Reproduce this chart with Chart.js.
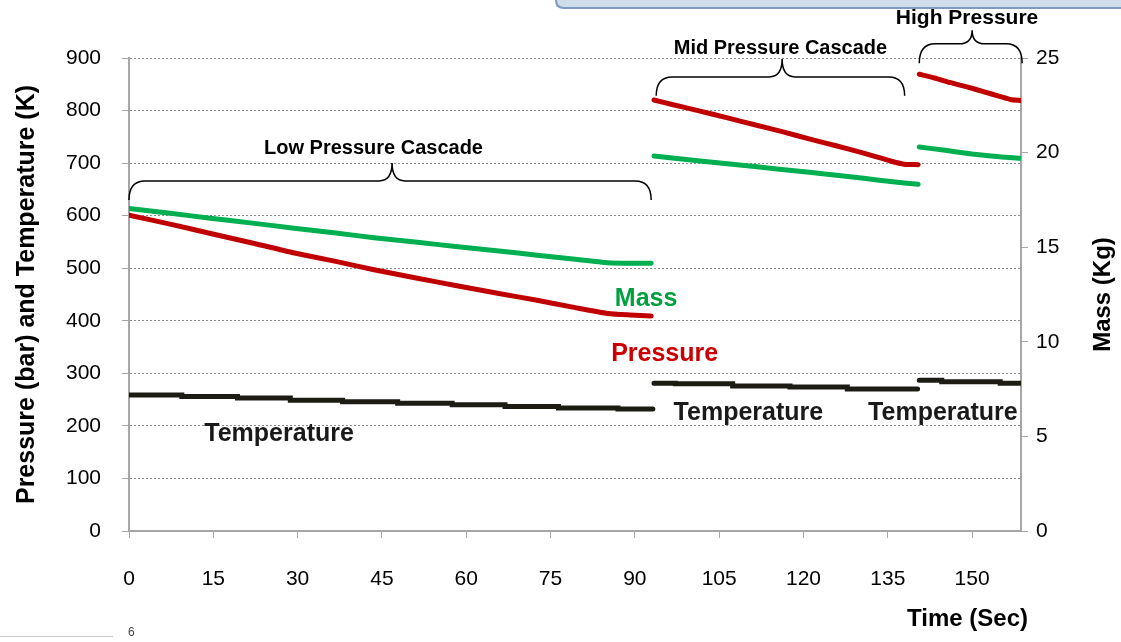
<!DOCTYPE html>
<html>
<head>
<meta charset="utf-8">
<script src="https://cdn.jsdelivr.net/npm/chart.js@4"></script>
<style>
  html, body { margin: 0; padding: 0; background: #fff; }
  #wrap { width: 1121px; height: 642px; position: relative; }
</style>
</head>
<body>
<div id="wrap"><canvas id="chart"></canvas></div>
<script>
// x axis ticks (seconds)
const timeTicks = [0, 15, 30, 45, 60, 75, 90, 105, 120, 135, 150];

// pressure (bar), left axis; null separates the three cascades
const pressureTime = [0, 7.7, 14.5, 22.3, 29, 36.8, 43.6, 51.3, 58.1, 65.8, 72.6, 79.4, 85.2, 89.1, 92.9, 93.1,
  93.4, 96.8, 101.6, 106.5, 111.3, 116.2, 121, 125.8, 130.7, 135.5, 137.9, 140.4, 140.5,
  140.6, 143.3, 146.2, 149.1, 152, 154.9, 156.8, 158.7];
const pressureValues = [601, 583, 566, 547, 530, 513, 497, 481, 467, 452, 439, 425, 414, 411, 409, null,
  820, 811, 799, 786, 773, 760, 746, 733, 719, 704, 698, 697, null,
  869, 862, 853, 845, 836, 827, 821, 819];

// mass (kg), right axis
const massTime = [0, 7.7, 14.5, 22.3, 29, 36.8, 43.6, 51.3, 58.1, 65.8, 72.6, 79.4, 85.2, 89.1, 92.9, 93.1,
  93.4, 101.6, 111.3, 121, 130.7, 135.5, 140.4, 140.5,
  140.6, 145.2, 150, 154.9, 158.7];
const massValues = [17.05, 16.78, 16.53, 16.26, 16.02, 15.75, 15.5, 15.26, 15.04, 14.8, 14.58, 14.36, 14.18, 14.15, 14.15, null,
  19.82, 19.56, 19.26, 18.96, 18.64, 18.47, 18.33, null,
  20.3, 20.12, 19.93, 19.78, 19.7];

// temperature (K), left axis, stepped
const tempTime = [0, 9.4, 19.3, 28.7, 38, 47.8, 57.5, 66.9, 76.4, 87, 93.2, 93.3,
  93.4, 97.2, 107.4, 117.6, 127.8, 140.3, 140.4,
  140.6, 144.6, 155, 158.7];
const tempValues = [259, 256, 253, 249, 246, 243, 240, 237, 234, 232, 232, null,
  281, 280, 276, 274, 270, 270, null,
  287, 284, 281, 281];

const braceLabels = ['Low Pressure Cascade', 'Mid Pressure Cascade', 'High Pressure'];
const seriesLabels = ['Mass', 'Pressure', 'Temperature', 'Temperature', 'Temperature'];

// annotation placement, in axis units (time, left axis value)
const braces = [
  { from: 0, to: 92.9, mid: 46.8, tip: 630, bar: 666, cusp: 700, tx: 43.5, ty: 727, size: 20 },
  { from: 93.8, to: 138, mid: 116.2, tip: 828, bar: 864, cusp: 898, tx: 115.9, ty: 919, size: 20 },
  { from: 140.6, to: 158.9, mid: 150, tip: 890, bar: 927, cusp: 953, tx: 149.1, ty: 976, size: 21 }
];
const labelSpots = [
  { x: 92, y: 441, color: '#00a040' },
  { x: 95.3, y: 337, color: '#cc0000' },
  { x: 26.7, y: 185, color: '#1a1a1a' },
  { x: 110.2, y: 225, color: '#1a1a1a' },
  { x: 144.8, y: 225, color: '#1a1a1a' }
];

const FONT = "'Liberation Sans', Arial, sans-serif";
Chart.defaults.font.family = FONT;
Chart.defaults.color = '#000';

function toPoints(times, values) {
  return times.map((t, i) => ({ x: t, y: values[i] }));
}

function drawBrace(ctx, x0, x1, xc, yTip, yBar, yCusp) {
  const r = 16, rc = 13;
  ctx.beginPath();
  ctx.moveTo(x0, yTip);
  ctx.quadraticCurveTo(x0, yBar, x0 + r, yBar);
  ctx.lineTo(xc - rc, yBar);
  ctx.quadraticCurveTo(xc, yBar, xc, yCusp);
  ctx.quadraticCurveTo(xc, yBar, xc + rc, yBar);
  ctx.lineTo(x1 - r, yBar);
  ctx.quadraticCurveTo(x1, yBar, x1, yTip);
  ctx.stroke();
}

const notesPlugin = {
  id: 'notes',
  afterDraw(chart) {
    const ctx = chart.ctx;
    const xs = chart.scales.x, ys = chart.scales.y;
    const area = chart.chartArea;
    ctx.save();
    // page decoration from the slide
    ctx.fillStyle = '#cfdcec';
    ctx.fillRect(556, 0, 565, 7);
    ctx.strokeStyle = '#7e9bbd';
    ctx.lineWidth = 2;
    ctx.beginPath();
    ctx.moveTo(556, 0);
    ctx.quadraticCurveTo(556, 8, 564, 8);
    ctx.lineTo(1121, 8);
    ctx.stroke();
    ctx.strokeStyle = '#c8c8c8';
    ctx.lineWidth = 1;
    ctx.beginPath();
    ctx.moveTo(0, 636.5);
    ctx.lineTo(113, 636.5);
    ctx.stroke();
    ctx.fillStyle = '#444';
    ctx.font = '12px ' + FONT;
    ctx.textAlign = 'left';
    ctx.textBaseline = 'alphabetic';
    ctx.fillText('6', 128, 636);

    // braces
    ctx.strokeStyle = '#000';
    ctx.lineWidth = 1.5;
    braces.forEach((b, i) => {
      drawBrace(ctx, xs.getPixelForValue(b.from), xs.getPixelForValue(b.to), xs.getPixelForValue(b.mid),
        ys.getPixelForValue(b.tip), ys.getPixelForValue(b.bar), ys.getPixelForValue(b.cusp));
      ctx.fillStyle = '#000';
      ctx.font = 'bold ' + b.size + 'px ' + FONT;
      ctx.textAlign = 'center';
      ctx.textBaseline = 'middle';
      ctx.fillText(braceLabels[i], xs.getPixelForValue(b.tx), ys.getPixelForValue(b.ty));
    });

    // series names
    ctx.font = 'bold 25px ' + FONT;
    seriesLabels.forEach((s, i) => {
      ctx.fillStyle = labelSpots[i].color;
      ctx.fillText(s, xs.getPixelForValue(labelSpots[i].x), ys.getPixelForValue(labelSpots[i].y));
    });

    // x axis title, flush right
    ctx.fillStyle = '#000';
    ctx.font = 'bold 24px ' + FONT;
    ctx.textAlign = 'right';
    ctx.fillText('Time (Sec)', area.right + 7, 619);

    // right axis title, reading upwards
    ctx.textAlign = 'center';
    ctx.translate(chart.width - 18, (area.top + area.bottom) / 2);
    ctx.rotate(-Math.PI / 2);
    ctx.fillText('Mass (Kg)', 0, 0);
    ctx.restore();
  }
};

const ctx = document.getElementById('chart').getContext('2d');
const chart = new Chart(ctx, {
  type: 'line',
  data: {
    datasets: [
      {
        label: 'Pressure',
        data: toPoints(pressureTime, pressureValues),
        yAxisID: 'y',
        borderColor: '#c00000',
        borderWidth: 5,
        borderCapStyle: 'round',
        pointRadius: 0,
        tension: 0.2
      },
      {
        label: 'Mass',
        data: toPoints(massTime, massValues),
        yAxisID: 'y1',
        borderColor: '#00b050',
        borderWidth: 5,
        borderCapStyle: 'round',
        pointRadius: 0,
        tension: 0.2
      },
      {
        label: 'Temperature',
        data: toPoints(tempTime, tempValues),
        yAxisID: 'y',
        borderColor: '#1d1c14',
        borderWidth: 5,
        borderCapStyle: 'round',
        pointRadius: 0,
        stepped: true
      }
    ]
  },
  options: {
    responsive: true,
    maintainAspectRatio: false,
    animation: false,
    layout: { padding: { top: 58, left: 0, right: 0, bottom: 0 } },
    plugins: {
      legend: { display: false },
      tooltip: { enabled: false }
    },
    scales: {
      x: {
        type: 'linear',
        min: 0,
        max: 158.7,
        afterBuildTicks: scale => { scale.ticks = timeTicks.map(v => ({ value: v })); },
        afterFit: scale => { scale.height = 111; },
        grid: { drawOnChartArea: false, tickLength: 7, tickColor: '#a6a6a6', tickWidth: 1 },
        border: { color: '#a6a6a6', width: 2 },
        ticks: { font: { size: 21 }, padding: 29, maxRotation: 0, color: '#000' }
      },
      y: {
        position: 'left',
        min: 0,
        max: 900,
        afterFit: scale => { scale.width = 129; },
        ticks: { stepSize: 100, font: { size: 21 }, padding: 21, color: '#000' },
        grid: { color: '#8c8c8c', lineWidth: 1, tickLength: 7, tickColor: '#a6a6a6', tickBorderDash: [] },
        border: { color: '#a6a6a6', width: 2, dash: [2, 2] },
        title: {
          display: true,
          text: 'Pressure (bar) and Temperature (K)',
          font: { size: 25, weight: 'bold' },
          padding: { top: 12, bottom: 0 }
        }
      },
      y1: {
        position: 'right',
        min: 0,
        max: 25,
        afterFit: scale => { scale.width = 100; },
        ticks: { stepSize: 5, font: { size: 21 }, padding: 8, color: '#000' },
        grid: { drawOnChartArea: false, tickLength: 7, tickColor: '#a6a6a6' },
        border: { color: '#a6a6a6', width: 2 }
      }
    }
  },
  plugins: [notesPlugin]
});
</script>
</body>
</html>
